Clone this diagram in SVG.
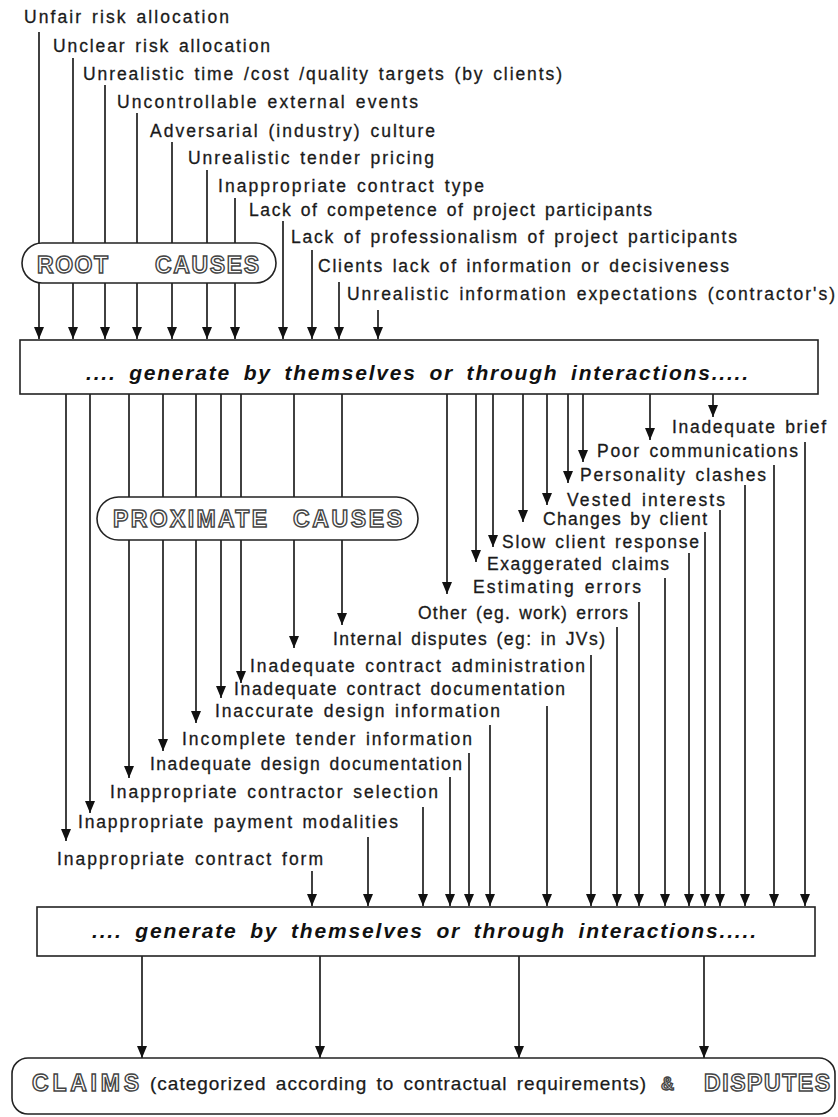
<svg xmlns="http://www.w3.org/2000/svg" width="838" height="1117" viewBox="0 0 838 1117">
<defs>
<marker id="ah" markerUnits="userSpaceOnUse" markerWidth="13" markerHeight="11" refX="12" refY="5" orient="auto">
<path d="M0,0 L12,5 L0,10 z" fill="#111"/>
</marker>
<style>
.lbl{font-family:"Liberation Sans",Arial,sans-serif;font-size:17.5px;fill:#1a1a1a;stroke:#1a1a1a;stroke-width:0.3;word-spacing:2px}
.gen{font-family:"Liberation Sans",Arial,sans-serif;font-size:21px;font-weight:bold;font-style:italic;fill:#111;word-spacing:5px}
.hol{font-family:"Liberation Sans",Arial,sans-serif;font-size:23px;font-weight:bold;fill:#fff;stroke:#444;stroke-width:1.4}
.cat{font-family:"Liberation Sans Narrow","Liberation Sans",Arial,sans-serif;font-size:19px;fill:#1a1a1a;stroke:#1a1a1a;stroke-width:0.25;word-spacing:3px}
.box{fill:#fff;stroke:#222;stroke-width:1.6}
.con line{stroke:#111;stroke-width:1.6;marker-end:url(#ah)}
</style>
</defs>
<rect width="838" height="1117" fill="#fff"/>

<g id="connectors" class="con">
<!-- root causes to box 1 -->
<line x1="39" y1="32" x2="39" y2="339"/>
<line x1="73" y1="58" x2="73" y2="339"/>
<line x1="105" y1="85" x2="105" y2="339"/>
<line x1="137" y1="113" x2="137" y2="339"/>
<line x1="172" y1="142" x2="172" y2="339"/>
<line x1="207" y1="170" x2="207" y2="339"/>
<line x1="235" y1="198" x2="235" y2="339"/>
<line x1="283" y1="221" x2="283" y2="339"/>
<line x1="312" y1="250" x2="312" y2="339"/>
<line x1="339" y1="282" x2="339" y2="339"/>
<line x1="378" y1="310" x2="378" y2="339"/>
<!-- box 1 to proximate causes -->
<line x1="66" y1="394" x2="66" y2="841"/>
<line x1="90" y1="394" x2="90" y2="813"/>
<line x1="129" y1="394" x2="129" y2="778"/>
<line x1="163" y1="394" x2="163" y2="751"/>
<line x1="196" y1="394" x2="196" y2="723"/>
<line x1="221" y1="394" x2="221" y2="698"/>
<line x1="241" y1="394" x2="241" y2="683"/>
<line x1="294" y1="394" x2="294" y2="648"/>
<line x1="342" y1="394" x2="342" y2="625"/>
<line x1="447" y1="394" x2="447" y2="594"/>
<line x1="476" y1="394" x2="476" y2="562"/>
<line x1="493" y1="394" x2="493" y2="547"/>
<line x1="523" y1="394" x2="523" y2="522"/>
<line x1="547" y1="394" x2="547" y2="505"/>
<line x1="568" y1="394" x2="568" y2="483"/>
<line x1="583" y1="394" x2="583" y2="462"/>
<line x1="650" y1="394" x2="650" y2="440"/>
<line x1="713" y1="394" x2="713" y2="417"/>
<!-- proximate causes to box 2 -->
<line x1="312" y1="871" x2="312" y2="906"/>
<line x1="368" y1="837" x2="368" y2="906"/>
<line x1="423" y1="807" x2="423" y2="906"/>
<line x1="450" y1="777" x2="450" y2="906"/>
<line x1="469" y1="753" x2="469" y2="906"/>
<line x1="490" y1="725" x2="490" y2="906"/>
<line x1="547" y1="706" x2="547" y2="906"/>
<line x1="591" y1="655" x2="591" y2="906"/>
<line x1="617" y1="627" x2="617" y2="906"/>
<line x1="639" y1="602" x2="639" y2="906"/>
<line x1="665" y1="578" x2="665" y2="906"/>
<line x1="689" y1="553" x2="689" y2="906"/>
<line x1="705" y1="532" x2="705" y2="906"/>
<line x1="720" y1="510" x2="720" y2="906"/>
<line x1="745" y1="485" x2="745" y2="906"/>
<line x1="774" y1="465" x2="774" y2="906"/>
<line x1="805" y1="442" x2="805" y2="906"/>
<!-- box 2 to claims -->
<line x1="142" y1="956" x2="142" y2="1058"/>
<line x1="320" y1="956" x2="320" y2="1058"/>
<line x1="519" y1="956" x2="519" y2="1058"/>
<line x1="704" y1="956" x2="704" y2="1058"/>
</g>

<!-- root causes -->
<g id="rc1"><text class="lbl" x="24" y="23" textLength="205">Unfair risk allocation</text></g>
<g id="rc2"><text class="lbl" x="53" y="52" textLength="217">Unclear risk allocation</text></g>
<g id="rc3"><text class="lbl" x="83" y="80" textLength="479">Unrealistic time /cost /quality targets (by clients)</text></g>
<g id="rc4"><text class="lbl" x="117" y="108" textLength="301">Uncontrollable external events</text></g>
<g id="rc5"><text class="lbl" x="150" y="137" textLength="285">Adversarial (industry) culture</text></g>
<g id="rc6"><text class="lbl" x="188" y="164" textLength="246">Unrealistic tender pricing</text></g>
<g id="rc7"><text class="lbl" x="218" y="192" textLength="266">Inappropriate contract type</text></g>
<g id="rc8"><text class="lbl" x="249" y="216" textLength="403">Lack of competence of project participants</text></g>
<g id="rc9"><text class="lbl" x="291" y="243" textLength="446">Lack of professionalism of project participants</text></g>
<g id="rc10"><text class="lbl" x="318" y="272" textLength="411">Clients lack of information or decisiveness</text></g>
<g id="rc11"><text class="lbl" x="347" y="300" textLength="488">Unrealistic information expectations (contractor's)</text></g>

<g id="root-causes">
<rect class="box" x="22" y="243" width="254" height="40" rx="20"/>
<text class="hol" x="37" y="273" textLength="71">ROOT</text>
<text class="hol" x="155" y="273" textLength="104">CAUSES</text>
</g>

<g id="interactions-1">
<rect class="box" x="20" y="340" width="798" height="54"/>
<text class="gen" x="86" y="380" textLength="662">.... generate by themselves or through interactions.....</text>
</g>

<g id="proximate-causes">
<rect class="box" x="97" y="497" width="321" height="43" rx="21.5"/>
<text class="hol" x="113" y="527" textLength="154">PROXIMATE</text>
<text class="hol" x="293" y="527" textLength="109">CAUSES</text>
</g>

<!-- proximate causes -->
<g id="pc1"><text class="lbl" x="672" y="433" textLength="154">Inadequate brief</text></g>
<g id="pc2"><text class="lbl" x="597" y="457" textLength="201">Poor communications</text></g>
<g id="pc3"><text class="lbl" x="580" y="481" textLength="186">Personality clashes</text></g>
<g id="pc4"><text class="lbl" x="567" y="506" textLength="158">Vested interests</text></g>
<g id="pc5"><text class="lbl" x="543" y="525" textLength="164">Changes by client</text></g>
<g id="pc6"><text class="lbl" x="502" y="548" textLength="197">Slow client response</text></g>
<g id="pc7"><text class="lbl" x="487" y="570" textLength="182">Exaggerated claims</text></g>
<g id="pc8"><text class="lbl" x="473" y="593" textLength="168">Estimating errors</text></g>
<g id="pc9"><text class="lbl" x="418" y="619" textLength="210">Other (eg. work) errors</text></g>
<g id="pc10"><text class="lbl" x="333" y="645" textLength="272">Internal disputes (eg: in JVs)</text></g>
<g id="pc11"><text class="lbl" x="250" y="672" textLength="335">Inadequate contract administration</text></g>
<g id="pc12"><text class="lbl" x="234" y="695" textLength="331">Inadequate contract documentation</text></g>
<g id="pc13"><text class="lbl" x="215" y="717" textLength="285">Inaccurate design information</text></g>
<g id="pc14"><text class="lbl" x="182" y="745" textLength="290">Incomplete tender information</text></g>
<g id="pc15"><text class="lbl" x="150" y="770" textLength="312">Inadequate design documentation</text></g>
<g id="pc16"><text class="lbl" x="110" y="798" textLength="328">Inappropriate contractor selection</text></g>
<g id="pc17"><text class="lbl" x="78" y="828" textLength="320">Inappropriate payment modalities</text></g>
<g id="pc18"><text class="lbl" x="57" y="865" textLength="266">Inappropriate contract form</text></g>

<g id="interactions-2">
<rect class="box" x="37" y="907" width="778" height="49"/>
<text class="gen" x="92" y="938" textLength="664">.... generate by themselves or through interactions.....</text>
</g>

<g id="claims-disputes">
<rect class="box" x="12" y="1058" width="823" height="56" rx="16"/>
<text class="hol" x="32" y="1091" textLength="107">CLAIMS</text>
<text class="cat" x="150" y="1090" textLength="496">(categorized according to contractual requirements)</text>
<text class="hol" x="661" y="1090" textLength="17" style="font-size:18px">&amp;</text>
<text class="hol" x="704" y="1091" textLength="126">DISPUTES</text>
</g>
</svg>
